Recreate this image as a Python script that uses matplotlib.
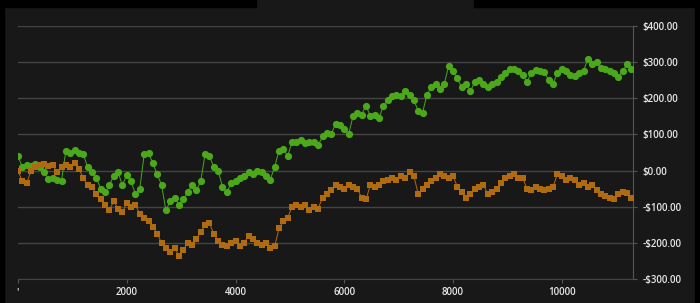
import matplotlib
matplotlib.use('Agg')
import matplotlib.pyplot as plt
import numpy as np
from matplotlib.patches import Rectangle
from matplotlib.ticker import FuncFormatter

green = [40, 10, 15, 12, 18, 10, -5, -22, -20, -25,
         -28, 55, 48, 58, 50, 45, 10, -5, -20, -50,
         -60, -40, -15, -5, -40, -12, -30, -65, -50, 45,
         50, 20, -10, -40, -110, -85, -75, -95, -80, -60,
         -40, -55, -30, 45, 40, 10, 0, -45, -60, -35,
         -30, -20, -15, -5, -10, 0, -5, -15, -25, 10,
         55, 60, 40, 80, 78, 85, 75, 80, 78, 70,
         95, 105, 100, 130, 125, 115, 100, 150, 160, 155,
         180, 150, 155, 145, 180, 195, 205, 210, 205, 220,
         210, 195, 165, 160, 210, 230, 240, 225, 240, 290,
         275, 255, 230, 240, 220, 245, 250, 240, 230, 240,
         245, 260, 270, 280, 282, 275, 265, 245, 270, 278,
         275, 272, 250, 240, 270, 280, 275, 265, 262, 270,
         275, 310, 295, 300, 285, 280, 275, 270, 260, 275,
         295, 280]
orange = [0, -30, -35, 0, 10, 15, 18, 12, 15, -5,
          10, 15, 10, 20, 5, -20, -40, -45, -65, -80,
          -95, -110, -85, -105, -115, -90, -100, -95, -120, -130,
          -140, -155, -175, -200, -215, -225, -215, -235, -220, -200,
          -205, -190, -170, -150, -145, -175, -195, -205, -210, -200,
          -195, -210, -200, -180, -190, -200, -205, -200, -215, -210,
          -160, -140, -130, -100, -95, -100, -95, -110, -100, -105,
          -75, -65, -55, -40, -45, -50, -40, -45, -50, -75,
          -80, -40, -45, -40, -30, -25, -20, -25, -15, -20,
          -5, -15, -65, -50, -40, -30, -20, -10, -15, -20,
          -15, -45, -60, -75, -65, -50, -45, -40, -65, -60,
          -50, -35, -20, -15, -10, -20, -20, -50, -55, -45,
          -50, -55, -50, -45, -10, -15, -25, -20, -25, -40,
          -35, -45, -40, -55, -65, -70, -75, -80, -65, -60,
          -62, -75]
x = np.arange(len(green)) * 80

y_ticks = [-300, -200, -100, 0, 100, 200, 300, 400]
x_ticks = [0, 2000, 4000, 6000, 8000, 10000]
x_labels = ["'", '2000', '4000', '6000', '8000', '10000']

plt.rcParams['font.family'] = ['Open Sans', 'DejaVu Sans']

fig = plt.figure(figsize=(7, 3.03), dpi=100, facecolor='#181818')
# black frame pieces around the panel
for r in [(0, 0, 4/700, 1), (695/700, 0, 5/700, 1),
          (0, 1 - 7/303, 256/700, 7/303), (474/700, 1 - 7/303, 226/700, 7/303)]:
    fig.patches.append(Rectangle(r[:2], r[2], r[3], transform=fig.transFigure,
                                 color='black', zorder=0))

ax = fig.add_axes([18/700, 1 - 279/303, 615/700, 253/303])
ax.set_facecolor('#181818')

ax.plot(x, green, color='#4aa81a', lw=0.7, marker='o', ms=5.2,
        markeredgewidth=0, zorder=3)
ax.plot(x, orange, color='#b06a10', lw=0.7, marker='s', ms=4.8,
        markeredgewidth=0, zorder=4)

ax.set_xlim(0, 11310)
ax.set_ylim(-300, 400)
ax.set_yticks(y_ticks)
ax.set_xticks(x_ticks)
ax.set_xticklabels(x_labels)
ax.yaxis.set_major_formatter(FuncFormatter(
    lambda v, p: ('-$%.2f' % -v) if v < 0 else ('$%.2f' % v)))
ax.yaxis.tick_right()
ax.grid(axis='y', color='#444444', lw=1.0, zorder=1)
for s in ['top', 'left']:
    ax.spines[s].set_visible(False)
ax.spines['right'].set_color('#555555')
ax.spines['bottom'].set_color('#444444')
ax.tick_params(axis='y', colors='#555555', length=3, pad=4,
               labelcolor='#e6e6e6', labelsize=7)
ax.tick_params(axis='x', colors='#555555', length=3, pad=3,
               labelcolor='#e6e6e6', labelsize=7)
for t in ax.get_xticklabels() + ax.get_yticklabels():
    t.set_fontweight('semibold')

fig.savefig('out.png', dpi=100, facecolor=fig.get_facecolor())
